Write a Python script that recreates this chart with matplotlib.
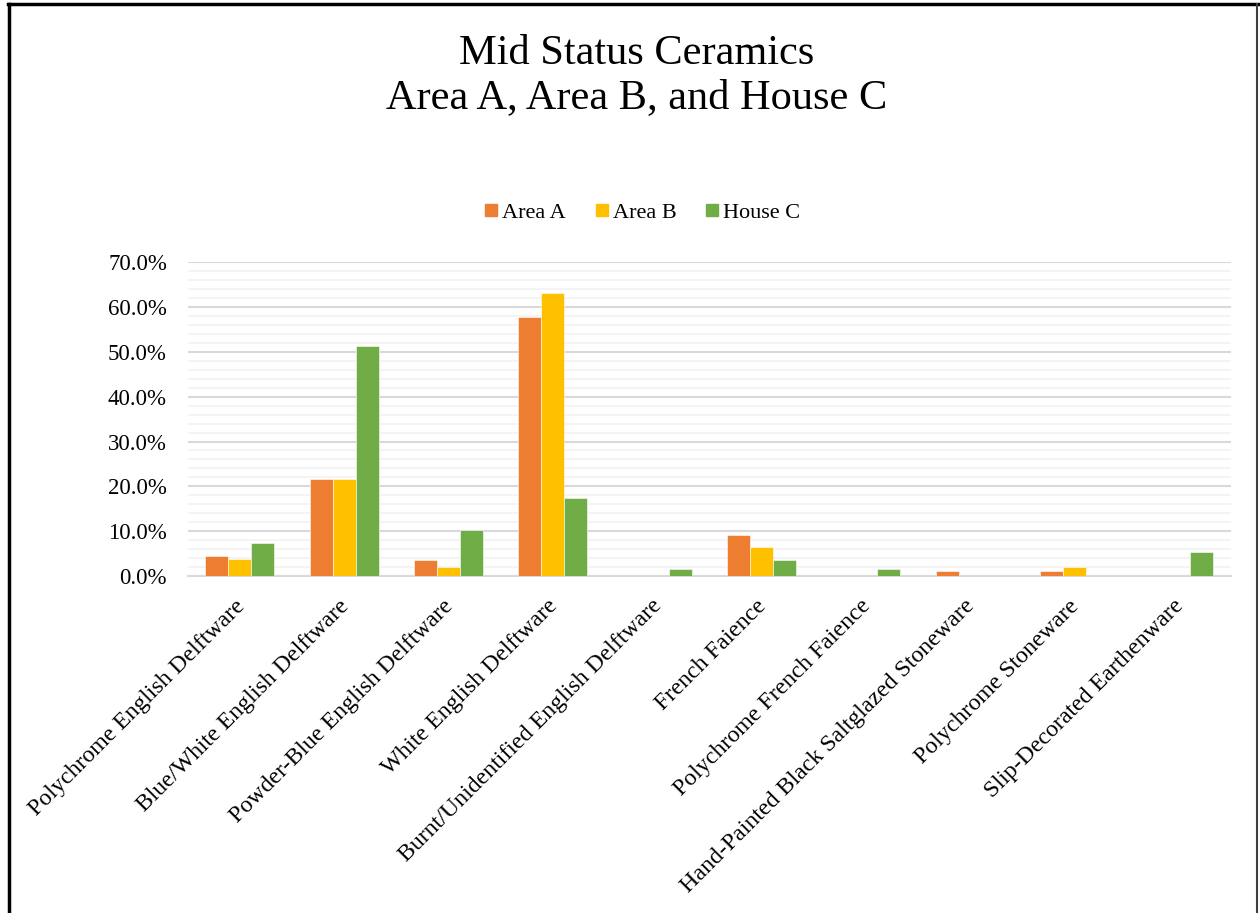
import matplotlib
matplotlib.use("Agg")
import matplotlib.pyplot as plt
import numpy as np
from matplotlib.ticker import MultipleLocator, FuncFormatter
from matplotlib.lines import Line2D
from matplotlib.transforms import ScaledTranslation

categories = [
    "Polychrome English Delftware",
    "Blue/White English Delftware",
    "Powder-Blue English Delftware",
    "White English Delftware",
    "Burnt/Unidentified English Delftware",
    "French Faience",
    "Polychrome French Faience",
    "Hand-Painted Black Saltglazed Stoneware",
    "Polychrome Stoneware",
    "Slip-Decorated Earthenware",
]
area_a = [4.5, 21.6, 3.6, 57.8, 0.0, 9.2, 0.0, 1.1, 1.1, 0.0]
area_b = [3.9, 21.6, 2.1, 63.1, 0.0, 6.4, 0.0, 0.0, 2.1, 0.0]
house_c = [7.3, 51.3, 10.2, 17.4, 1.6, 3.6, 1.6, 0.0, 0.0, 5.4]
series_names = ["Area A", "Area B", "House C"]
colors = ["#ED7D31", "#FFC000", "#70AD47"]

plt.rcParams['font.family'] = ['Liberation Serif', 'DejaVu Serif']

fig = plt.figure(figsize=(12.6, 9.13), dpi=100)
ax = fig.add_axes([0.149, 0.369, 0.828, 0.344])

x = np.arange(len(categories))
w = 0.22
for i, (vals, name, c) in enumerate(zip([area_a, area_b, house_c], series_names, colors)):
    ax.bar(x + (i - 1) * w, vals, width=w, color=c, label=name,
           edgecolor='white', linewidth=0.4, zorder=3)

ax.set_xlim(-0.5, len(categories) - 0.5)
ax.set_ylim(0, 70)
ax.yaxis.set_major_locator(MultipleLocator(10))
ax.yaxis.set_minor_locator(MultipleLocator(2))
ax.yaxis.set_major_formatter(FuncFormatter(lambda v, p: f"{v:.1f}%"))
ax.grid(axis='y', which='minor', color='#f2f2f2', linewidth=1.2, zorder=0)
ax.grid(axis='y', which='major', color='#d9d9d9', linewidth=1.5, zorder=1)
ax.set_axisbelow(True)
for s in ['top', 'right', 'left']:
    ax.spines[s].set_visible(False)
ax.spines['bottom'].set_color('#d9d9d9')
ax.spines['bottom'].set_linewidth(1.5)
ax.tick_params(axis='both', which='both', length=0)
ax.tick_params(axis='y', labelsize=16.5, pad=15)
ax.set_xticks(x)
ax.set_xticklabels(categories, rotation=45, ha='right', va='top',
                   rotation_mode='anchor', fontsize=17.2)
ax.tick_params(axis='x', pad=14)
offset = ScaledTranslation(-6 / 100, 0, fig.dpi_scale_trans)
for lbl in ax.get_xticklabels():
    lbl.set_transform(lbl.get_transform() + offset)

fig.text(0.505, 0.917, "Mid Status Ceramics\nArea A, Area B, and House C",
         ha='center', va='center', fontsize=30.5, linespacing=1.2)

handles = [Line2D([0], [0], marker='s', linestyle='none', markersize=8,
                  markerfacecolor=c, markeredgecolor=c) for c in colors]
fig.legend(handles, series_names, loc='center', bbox_to_anchor=(0.508, 0.767),
           ncol=3, frameon=False, fontsize=16, handletextpad=0.0,
           columnspacing=1.1, handlelength=1.0)

# figure border (left, top, right)
fig.add_artist(Line2D([0.0075, 0.0075], [0, 0.996], transform=fig.transFigure,
                      color='black', linewidth=2.5))
fig.add_artist(Line2D([0.0065, 0.999], [0.996, 0.996], transform=fig.transFigure,
                      color='black', linewidth=2.5))
fig.add_artist(Line2D([0.998, 0.998], [0, 0.996], transform=fig.transFigure,
                      color='#404040', linewidth=1.5))

fig.savefig("out.png", dpi=100)
